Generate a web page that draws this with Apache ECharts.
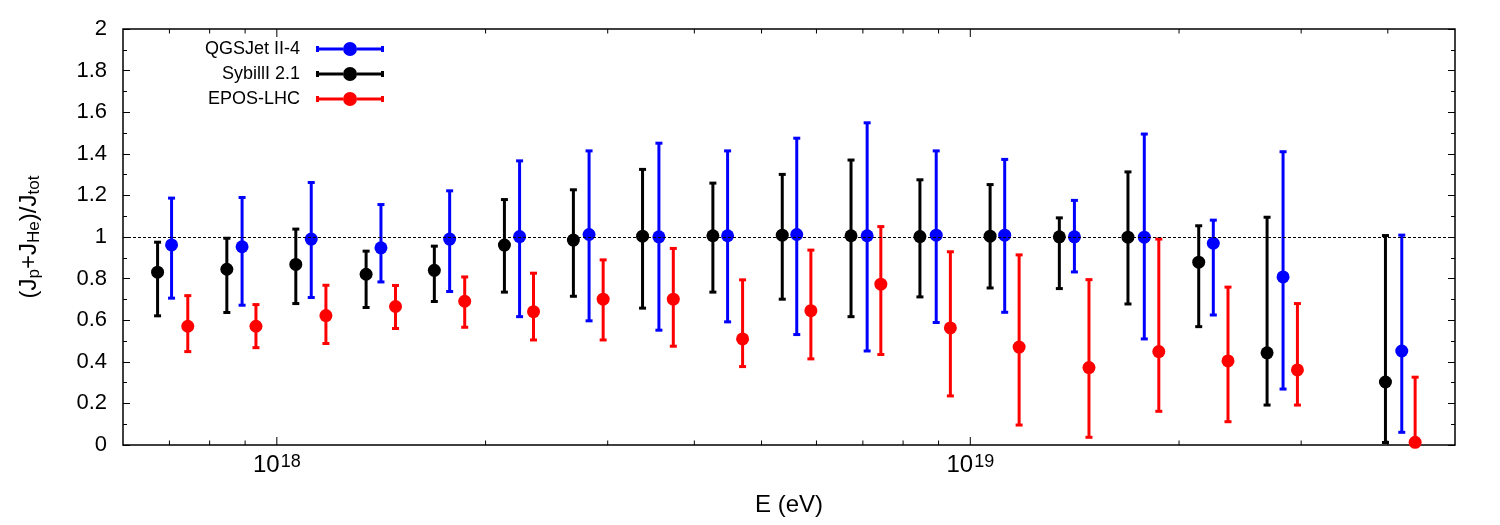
<!DOCTYPE html>
<html lang="en">
<head>
<meta charset="UTF-8"/>
<title>(Jp+JHe)/Jtot</title>
<script src="https://cdn.jsdelivr.net/npm/echarts@6.0.0/dist/echarts.min.js"></script>
<style>
    html, body { margin: 0; padding: 0; background: #fff; }
    #main { width: 1500px; height: 525px; }
</style>
</head>
<body>
<div id="main"></div>
<script>
    // QGSJet II-4 (blue)
    var qgsE   = [7.05e17, 8.91e17, 1.121e18, 1.413e18, 1.775e18, 2.239e18, 2.82e18, 3.556e18, 4.467e18, 5.62e18, 7.10e18, 8.93e18, 1.121e19, 1.413e19, 1.782e19, 2.241e19, 2.825e19, 4.19e19];
    var qgsVal = [0.962, 0.953, 0.990, 0.948, 0.990, 1.002, 1.012, 1.001, 1.006, 1.012, 1.006, 1.009, 1.009, 1.001, 0.999, 0.970, 0.808, 0.452];
    var qgsLo  = [0.706, 0.672, 0.709, 0.784, 0.738, 0.617, 0.597, 0.552, 0.592, 0.531, 0.452, 0.589, 0.638, 0.832, 0.510, 0.625, 0.269, 0.061];
    var qgsHi  = [1.187, 1.190, 1.262, 1.156, 1.222, 1.366, 1.414, 1.451, 1.414, 1.475, 1.549, 1.414, 1.373, 1.176, 1.495, 1.081, 1.410, 1.009];

    // SybillI 2.1 (black)
    var sibE   = [6.73e17, 8.47e17, 1.065e18, 1.345e18, 1.687e18, 2.129e18, 2.677e18, 3.368e18, 4.254e18, 5.356e18, 6.73e18, 8.46e18, 1.068e19, 1.344e19, 1.688e19, 2.135e19, 2.679e19, 3.969e19];
    var sibVal = [0.831, 0.845, 0.868, 0.821, 0.840, 0.961, 0.985, 1.004, 1.006, 1.009, 1.006, 1.002, 1.004, 1.001, 0.999, 0.879, 0.443, 0.303];
    var sibLo  = [0.621, 0.637, 0.680, 0.661, 0.690, 0.735, 0.715, 0.658, 0.735, 0.701, 0.617, 0.712, 0.755, 0.752, 0.678, 0.569, 0.192, 0.012];
    var sibHi  = [0.975, 0.994, 1.038, 0.932, 0.956, 1.180, 1.227, 1.325, 1.259, 1.301, 1.370, 1.275, 1.252, 1.092, 1.313, 1.054, 1.095, 1.007];

    // EPOS-LHC (red)
    var eposE   = [7.44e17, 9.33e17, 1.177e18, 1.483e18, 1.866e18, 2.345e18, 2.955e18, 3.73e18, 4.695e18, 5.89e18, 7.43e18, 9.36e18, 1.176e19, 1.483e19, 1.87e19, 2.353e19, 2.963e19, 4.38e19];
    var eposVal = [0.571, 0.571, 0.622, 0.666, 0.691, 0.641, 0.701, 0.701, 0.510, 0.646, 0.773, 0.563, 0.471, 0.372, 0.449, 0.404, 0.361, 0.013];
    var eposLo  = [0.449, 0.468, 0.488, 0.560, 0.566, 0.505, 0.505, 0.475, 0.377, 0.414, 0.435, 0.236, 0.096, 0.037, 0.162, 0.112, 0.192, 0];
    var eposHi  = [0.718, 0.675, 0.768, 0.767, 0.808, 0.826, 0.890, 0.945, 0.794, 0.937, 1.050, 0.929, 0.914, 0.795, 0.990, 0.759, 0.680, 0.326];

    // axes
    var xMin = 6e17, xMax = 5e19;
    var xMajorTicks = [1e18, 1e19];
    var xMinorTicks = [7e17, 8e17, 9e17, 2e18, 3e18, 4e18, 5e18, 6e18, 7e18, 8e18, 9e18, 2e19, 3e19, 4e19];
    var yMin = 0, yMax = 2, yStep = 0.2;
    var refLevel = 1;

    var FONT = '"Liberation Sans", Arial, Helvetica, sans-serif';

    // legend sample: cap - bar - dot - bar - cap  (68 x 14)
    var legendIcon = 'path://M0 4L3 4L3 10L0 10Z M3 5.6L27 5.6L27 8.4L3 8.4Z ' +
        'M27 7A7 7 0 1 1 41 7A7 7 0 1 1 27 7Z M41 5.6L65 5.6L65 8.4L41 8.4Z M65 4L68 4L68 10L65 10Z';

    function errData(E, lo, hi) {
        var out = [];
        for (var i = 0; i < E.length; i++) out.push([E[i], lo[i], hi[i]]);
        return out;
    }
    function ptData(E, v) {
        var out = [];
        for (var i = 0; i < E.length; i++) out.push([E[i], v[i]]);
        return out;
    }

    function errRenderer(color) {
        return function (params, api) {
            var lo = api.coord([api.value(0), api.value(1)]);
            var hi = api.coord([api.value(0), api.value(2)]);
            var w = 3.5;
            var st = {stroke: color, lineWidth: 3};
            return {
                type: 'group',
                children: [
                    {type: 'line', shape: {x1: lo[0], y1: lo[1], x2: hi[0], y2: hi[1]}, style: st},
                    {type: 'line', shape: {x1: lo[0] - w, y1: lo[1], x2: lo[0] + w, y2: lo[1]}, style: st},
                    {type: 'line', shape: {x1: hi[0] - w, y1: hi[1], x2: hi[0] + w, y2: hi[1]}, style: st}
                ]
            };
        };
    }

    // x ticks on bottom and top, pointing inwards
    function tickRenderer(len) {
        return function (params, api) {
            var b = api.coord([api.value(0), yMin]);
            var t = api.coord([api.value(0), yMax]);
            var st = {stroke: '#000', lineWidth: 1};
            return {
                type: 'group',
                children: [
                    {type: 'line', shape: {x1: b[0], y1: b[1], x2: b[0], y2: b[1] - len}, style: st},
                    {type: 'line', shape: {x1: t[0], y1: t[1], x2: t[0], y2: t[1] + len}, style: st}
                ]
            };
        };
    }

    function makeModel(name, color, E, v, lo, hi) {
        return [{
            name: name,
            type: 'custom',
            renderItem: errRenderer(color),
            data: errData(E, lo, hi),
            encode: {x: 0, y: [1, 2]},
            itemStyle: {color: color, opacity: 1},
            silent: true,
            z: 3
        }, {
            name: name,
            type: 'scatter',
            symbol: 'circle',
            symbolSize: 13,
            data: ptData(E, v),
            itemStyle: {color: color, opacity: 1},
            clip: false,
            z: 4
        }];
    }

    var yAxisCommon = {
        type: 'value',
        min: yMin,
        max: yMax,
        interval: yStep,
        splitLine: {show: false},
        axisLine: {show: false},
        axisTick: {show: true, inside: true, length: 7, lineStyle: {color: '#000', width: 1}},
        minorTick: {show: true, splitNumber: 2, length: 4, lineStyle: {color: '#000', width: 1}}
    };

    var myChart = echarts.init(document.getElementById('main'));

    var series = [].concat(
        makeModel('QGSJet II-4', '#0000ff', qgsE, qgsVal, qgsLo, qgsHi),
        makeModel('SybillI 2.1', '#000000', sibE, sibVal, sibLo, sibHi),
        makeModel('EPOS-LHC', '#ff0000', eposE, eposVal, eposLo, eposHi)
    );

    series.push({
        type: 'custom',
        renderItem: tickRenderer(8),
        data: xMajorTicks.map(function (v) { return [v, yMin]; }),
        silent: true,
        z: 1,
        markLine: {
            silent: true,
            symbol: 'none',
            label: {show: false},
            lineStyle: {color: '#000', width: 1.2, type: [3, 2]},
            data: [{yAxis: refLevel}]
        }
    });
    series.push({
        type: 'custom',
        renderItem: tickRenderer(4.5),
        data: xMinorTicks.map(function (v) { return [v, yMin]; }),
        silent: true,
        z: 1
    });

    myChart.setOption({
        animation: false,
        backgroundColor: '#fff',
        grid: {
            left: 123, right: 45, top: 29, bottom: 80,
            show: true, borderColor: '#000', borderWidth: 1.5, backgroundColor: 'transparent'
        },
        legend: {
            orient: 'vertical',
            align: 'right',
            left: 200,
            top: 35,
            itemWidth: 68,
            itemHeight: 14,
            itemGap: 7,
            selectedMode: false,
            itemStyle: {opacity: 1},
            textStyle: {fontSize: 18, color: '#000', fontFamily: FONT, lineHeight: 18, padding: [0, 11, 0, 0]},
            data: [
                {name: 'QGSJet II-4', icon: legendIcon},
                {name: 'SybillI 2.1', icon: legendIcon},
                {name: 'EPOS-LHC', icon: legendIcon}
            ]
        },
        xAxis: [{
            type: 'log',
            logBase: 10,
            min: xMin,
            max: xMax,
            axisLine: {show: false},
            axisTick: {show: false},
            splitLine: {show: false},
            axisLabel: {
                margin: 8,
                showMinLabel: false,
                showMaxLabel: false,
                formatter: function (v) {
                    var l = Math.log(v) / Math.LN10;
                    if (Math.abs(l - Math.round(l)) < 1e-6) {
                        return '{b|10}{s|' + Math.round(l) + '}';
                    }
                    return '';
                },
                rich: {
                    b: {fontSize: 24, fontFamily: FONT, color: '#000', lineHeight: 24, padding: [8, 0, 0, 0], verticalAlign: 'bottom'},
                    s: {fontSize: 18, fontFamily: FONT, color: '#000', lineHeight: 18, padding: [0, 0, 0, 1], verticalAlign: 'top'}
                }
            },
            name: 'E (eV)',
            nameLocation: 'middle',
            nameGap: 48,
            nameTextStyle: {fontSize: 24, color: '#000', fontFamily: FONT}
        }],
        yAxis: [
            Object.assign({}, yAxisCommon, {
                position: 'left',
                axisLabel: {fontSize: 22, color: '#000', fontFamily: FONT, margin: 16},
                name: '(J{s|p}+J{s|He})/J{s|tot}',
                nameLocation: 'middle',
                nameGap: 80,
                nameTextStyle: {
                    fontSize: 24, color: '#000', fontFamily: FONT,
                    rich: {s: {fontSize: 17, color: '#000', fontFamily: FONT, padding: [11, 0, 0, 0]}}
                }
            }),
            Object.assign({}, yAxisCommon, {
                position: 'right',
                axisLabel: {show: false}
            })
        ],
        series: series
    });
</script>
</body>
</html>
